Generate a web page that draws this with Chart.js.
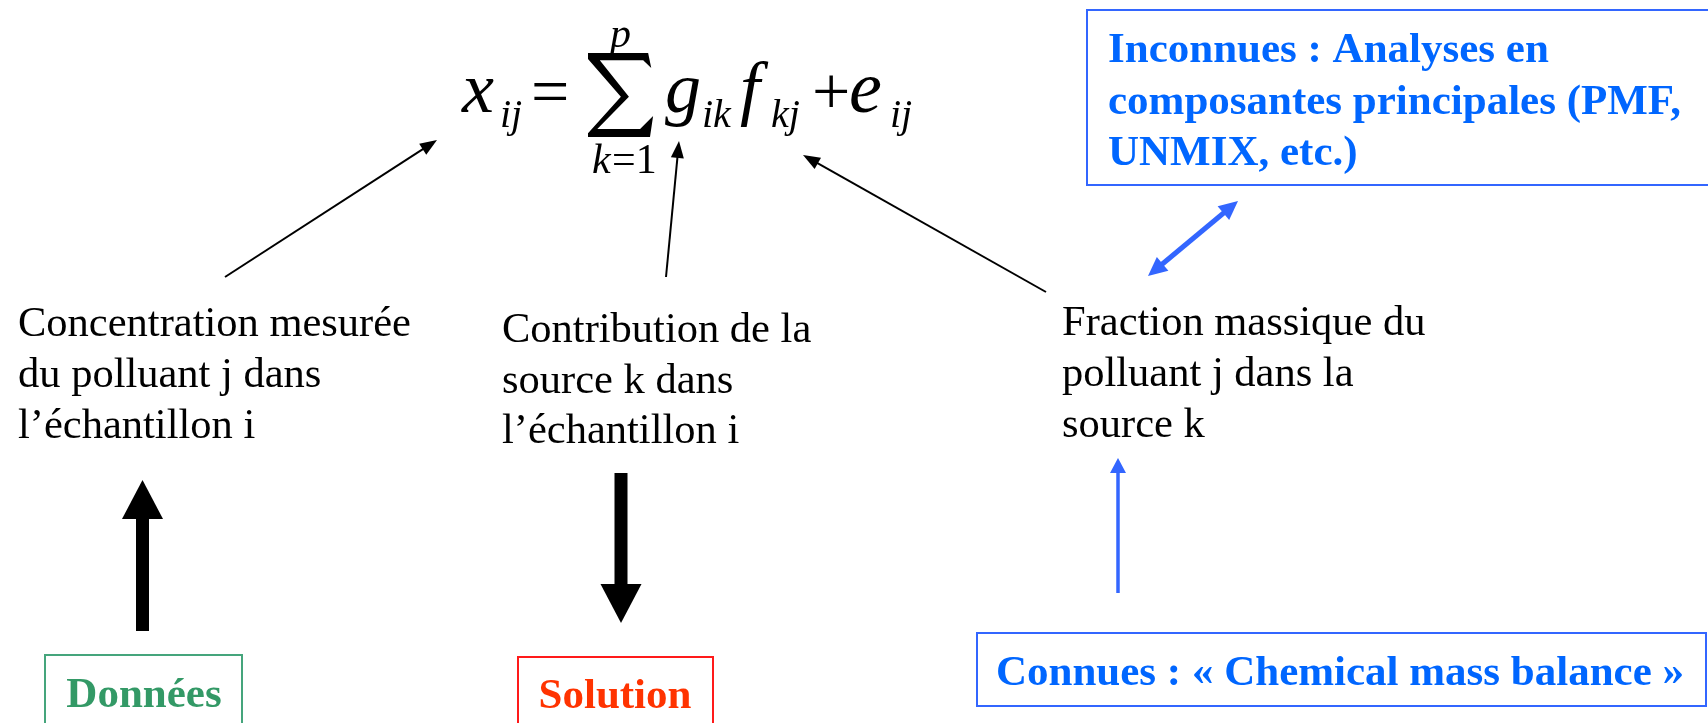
<!DOCTYPE html>
<html>
<head>
<meta charset="utf-8">
<script src="https://cdn.jsdelivr.net/npm/chart.js@4.4.1/dist/chart.umd.min.js"></script>
<style>
  html, body { margin: 0; padding: 0; background: #fff; overflow: hidden; }
</style>
</head>
<body>
<canvas id="schema" width="1708" height="723"></canvas>
<script>
// Textes du schéma (modèle récepteur)
const texteMesure = ['Concentration mesurée', 'du polluant j dans', 'l’échantillon i'];
const texteContribution = ['Contribution de la', 'source k dans', 'l’échantillon i'];
const texteFraction = ['Fraction massique du', 'polluant j dans la', 'source k'];
const texteInconnues = ['Inconnues : Analyses en', 'composantes principales (PMF,', 'UNMIX, etc.)'];
const texteConnues = ['Connues : « Chemical mass balance »'];
const texteDonnees = ['Données'];
const texteSolution = ['Solution'];

// Flèches : [départ, pointe] en coordonnées du repère (0..1708, 0..723)
const flechesFines = [
  [[225, 277], [437, 140]],
  [[666, 277], [679, 141]],
  [[1046, 292], [803, 155]]
];
const flecheDonnees = [[142.5, 631], [142.5, 480]];
const flecheSolution = [[621, 473], [621, 623]];
const flecheConnues = [[1118, 593], [1118, 458]];
const flecheDouble = [[1148, 276], [1238, 201]];

const W = 1708, H = 723;
const SERIF = '"Liberation Serif", "Times New Roman", serif';

// contour du grand sigma, dans une boîte unité (0..1)
const sigmaContour = [
  [0, 0], [0.97, 0], [1.02, 0.18], [0.89, 0.085], [0.19, 0.085], [0.66, 0.52],
  [0.15, 0.905], [0.84, 0.905], [1.05, 0.75], [1, 1], [0, 1], [0, 0.955],
  [0.53, 0.52], [0, 0.07]
];

// construit le segment (tige) d'une flèche, raccourci sous la tête
function tige(f, long, deuxBouts) {
  const [a, b] = f;
  const dx = b[0] - a[0], dy = b[1] - a[1];
  const n = Math.hypot(dx, dy), ux = dx / n, uy = dy / n;
  const debut = deuxBouts ? [a[0] + ux * long * 0.8, a[1] + uy * long * 0.8] : a;
  return [{x: debut[0], y: debut[1]}, {x: b[0] - ux * long * 0.8, y: b[1] - uy * long * 0.8}];
}

function dsFleche(f, couleur, epaisseur, tete, deuxBouts) {
  return {
    data: tige(f, tete.long, deuxBouts),
    fleche: f,
    tete: tete,
    deuxBouts: !!deuxBouts,
    showLine: true,
    borderColor: couleur,
    backgroundColor: couleur,
    borderWidth: epaisseur,
    borderCapStyle: 'butt',
    pointRadius: 0,
    fill: false
  };
}

const teteFine = {long: 17, demi: 6.5};
const teteEpaisse = {long: 39, demi: 20.5};
const teteBleue = {long: 15, demi: 8};

const datasets = [
  ...flechesFines.map(f => dsFleche(f, '#000', 2, teteFine)),
  dsFleche(flecheDonnees, '#000', 13, teteEpaisse),
  dsFleche(flecheSolution, '#000', 13, teteEpaisse),
  dsFleche(flecheConnues, '#3366ff', 3.5, teteBleue),
  dsFleche(flecheDouble, '#3366ff', 5, {long: 19, demi: 9}, true)
];

const dessin = {
  id: 'dessin',
  afterDatasetsDraw(chart) {
    const {ctx, scales: {x, y}} = chart;
    const px = v => x.getPixelForValue(v);
    const py = v => y.getPixelForValue(v);

    // têtes de flèches
    chart.data.datasets.forEach(ds => {
      const [a, b] = ds.fleche;
      const pointes = ds.deuxBouts ? [[a, b], [b, a]] : [[a, b]];
      pointes.forEach(([p0, p1]) => {
        const x0 = px(p0[0]), y0 = py(p0[1]), x1 = px(p1[0]), y1 = py(p1[1]);
        const n = Math.hypot(x1 - x0, y1 - y0);
        const ux = (x1 - x0) / n, uy = (y1 - y0) / n;
        const bx = x1 - ux * ds.tete.long, by = y1 - uy * ds.tete.long;
        ctx.beginPath();
        ctx.moveTo(x1, y1);
        ctx.lineTo(bx - uy * ds.tete.demi, by + ux * ds.tete.demi);
        ctx.lineTo(bx + uy * ds.tete.demi, by - ux * ds.tete.demi);
        ctx.closePath();
        ctx.fillStyle = ds.borderColor;
        ctx.fill();
      });
    });

    const ecrire = (lignes, x0, y0, pas, police, couleur, align) => {
      ctx.save();
      ctx.font = police;
      ctx.fillStyle = couleur;
      ctx.textAlign = align || 'left';
      ctx.textBaseline = 'alphabetic';
      lignes.forEach((l, i) => ctx.fillText(l, px(x0), py(y0 + i * pas)));
      ctx.restore();
    };
    const cadre = (x0, y0, x1, y1, couleur) => {
      ctx.save();
      ctx.strokeStyle = couleur;
      ctx.lineWidth = 2;
      ctx.strokeRect(px(x0), py(y0), px(x1) - px(x0), py(y1) - py(y0));
      ctx.restore();
    };

    // textes noirs
    const normal = '42.5px ' + SERIF;
    ecrire(texteMesure, 18, 336, 51, normal, '#000');
    ecrire(texteContribution, 502, 342, 50.5, normal, '#000');
    ecrire(texteFraction, 1062, 335, 51, normal, '#000');

    // cadres et textes en gras
    const gras = 'bold 43px ' + SERIF;
    cadre(1087, 10, 1712, 185, '#3366ff');
    ecrire(texteInconnues, 1108, 62, 51.5, gras, '#0066ff');
    cadre(977, 633, 1706, 706, '#3366ff');
    ecrire(texteConnues, 1340, 685, 0, gras, '#0066ff', 'center');
    cadre(45, 655, 242, 730, '#45a57c');
    ecrire(texteDonnees, 144, 707, 0, gras, '#339966', 'center');
    cadre(518, 657, 713, 730, '#ff1a1a');
    ecrire(texteSolution, 615, 708, 0, gras, '#ff3300', 'center');

    // formule x_ij = Σ g_ik f_kj + e_ij
    const it = s => 'italic ' + s + 'px ' + SERIF;
    const dr = s => s + 'px ' + SERIF;
    const morceaux = [
      ['x', it(72), 462, 112], ['ij', it(40), 500, 127],
      ['=', dr(68), 531, 114],
      ['p', it(42), 610, 47],
      ['k', it(42), 592, 173], ['=1', dr(42), 612, 173],
      ['g', it(72), 665, 112], ['ik', it(40), 702, 127],
      ['f', it(72), 740, 112], ['kj', it(40), 771, 127],
      ['+', dr(68), 812, 114],
      ['e', it(74), 849, 112], ['ij', it(40), 890, 127]
    ];
    ctx.save();
    ctx.fillStyle = '#000';
    ctx.textBaseline = 'alphabetic';
    morceaux.forEach(([t, f, x0, y0]) => {
      ctx.font = f;
      ctx.fillText(t, px(x0), py(y0));
    });
    // grand sigma dans sa boîte (588..650, 53..137)
    const sx = u => px(588 + u * 62), sy = v => py(53 + v * 84);
    ctx.beginPath();
    sigmaContour.forEach(([u, v], i) => i ? ctx.lineTo(sx(u), sy(v)) : ctx.moveTo(sx(u), sy(v)));
    ctx.closePath();
    ctx.fill();
    ctx.restore();
  }
};

new Chart(document.getElementById('schema'), {
  type: 'scatter',
  data: {datasets: datasets},
  options: {
    responsive: false,
    animation: false,
    devicePixelRatio: 1,
    layout: {padding: 0},
    events: [],
    scales: {
      x: {type: 'linear', min: 0, max: W, display: false},
      y: {type: 'linear', min: 0, max: H, reverse: true, display: false}
    },
    plugins: {legend: {display: false}, tooltip: {enabled: false}}
  },
  plugins: [dessin]
});
</script>
</body>
</html>
